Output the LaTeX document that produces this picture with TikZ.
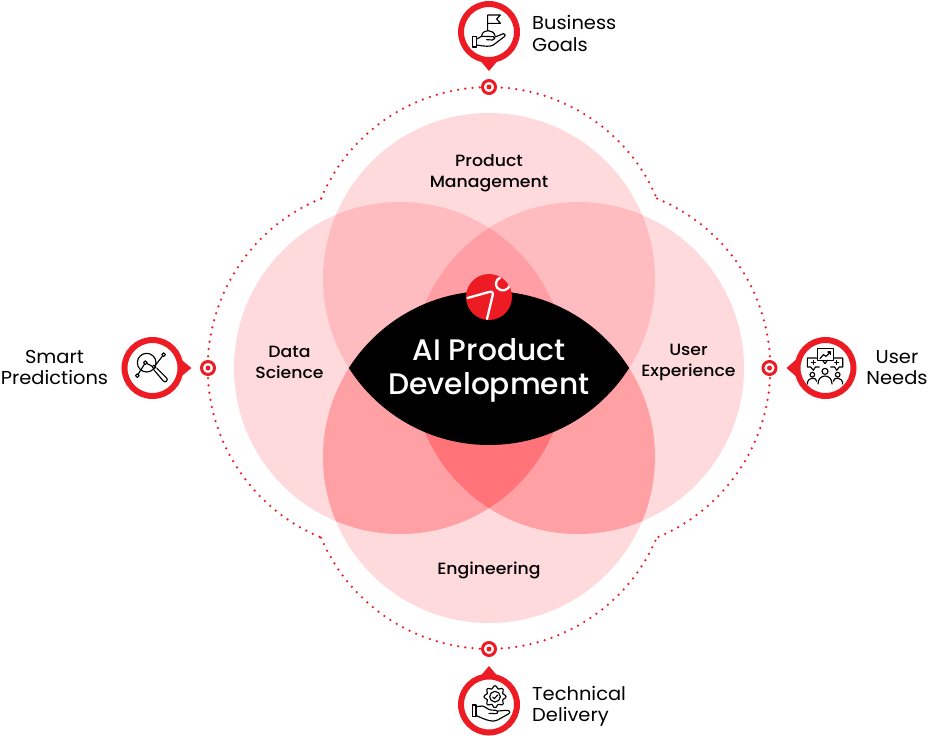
\documentclass[tikz,border=0pt]{standalone}
\usepackage{fontspec}
\setmainfont{Poppins}[FakeStretch=1.04]
\newfontfamily\popmed{Poppins Medium}[FakeStretch=1.06]
\newfontfamily\popmain{Poppins Medium}
\definecolor{brand}{HTML}{ED1C24}
\definecolor{petal}{HTML}{FFDADC}
\definecolor{pairtop}{HTML}{FFBCC0}
\definecolor{pairbot}{HTML}{FFA0A5}
\definecolor{tripletop}{HTML}{FF9FA5}
\definecolor{triplebot}{HTML}{FF7379}
\tikzset{
  x=1pt,y=-1pt,
  pinring/.style={circle,draw=brand,line width=6pt,fill=white,minimum size=56pt,inner sep=0pt,outer sep=0pt},
  targetdot/.style={circle,draw=brand,line width=3pt,fill=white,minimum size=13pt,inner sep=0pt,outer sep=0pt},
  bullseye/.style={circle,fill=brand,minimum size=5pt,inner sep=0pt,outer sep=0pt},
  pintip/.style={fill=brand},
  rim/.style={draw=brand,line width=2.5pt,line cap=round,dash pattern=on 0pt off 7.3pt},
  outerlabel/.style={text=black,font=\fontsize{18.7}{21.5}\selectfont,align=center,inner sep=0pt},
  outerleft/.style={outerlabel,align=left,anchor=west},
  innerlabel/.style={text=black,font=\popmed\fontsize{16.3}{20.4}\selectfont,align=center,inner sep=0pt},
  icon/.style={line width=1.15pt,draw=black,line join=round,line cap=round},
}
\newcommand{\circT}{(489,279) circle[radius=166]}
\newcommand{\circB}{(489,457) circle[radius=166]}
\newcommand{\circL}{(400,368) circle[radius=166]}
\newcommand{\circR}{(578,368) circle[radius=166]}
\begin{document}
\begin{tikzpicture}
\useasboundingbox (0,0) rectangle (929,736);
% petals
\fill[petal] \circT \circB \circL \circR;
\begin{scope}\clip \circT; \fill[pairtop] \circL; \fill[pairtop] \circR; \clip \circL; \fill[tripletop] \circR; \end{scope}
\begin{scope}\clip \circB; \fill[pairbot] \circL; \fill[pairbot] \circR; \clip \circL; \fill[triplebot] \circR; \end{scope}
% eye
\begin{scope}\clip \circT; \fill[black] \circB; \end{scope}
% dotted rim
\coordinate (cTL) at (321,198.5);
\coordinate (cTR) at (657,198.5);
\coordinate (cBL) at (321,537.5);
\coordinate (cBR) at (657,537.5);
\draw[rim] (cTL) arc[start angle=202.9,end angle=337.1,radius=182.3];
\draw[rim] (cBL) arc[start angle=157.1,end angle=22.9,radius=182.3];
\draw[rim] (cTL) arc[start angle=247.5,end angle=112.5,radius=183.5];
\draw[rim] (cTR) arc[start angle=-67.5,end angle=67.5,radius=183.5];
% logo
\node[circle,fill=brand,minimum size=46pt,inner sep=0pt,outer sep=0pt] (logo) at (489,297) {};
\draw[white,line width=2.3pt,line cap=round] (467.5,298) -- (489,292) .. controls (492.5,291) and (493.5,293) .. (492.5,296) -- (487,319);
\begin{scope}
\clip (489,297) circle[radius=23];
\draw[white,line width=2.3pt] (500.5,277.5) .. controls (496,279) and (494.5,285) .. (497.5,288) .. controls (501,292) and (508,291) .. (510,285);
\end{scope}
% main title
\node[text=white,font=\popmain\fontsize{29.7}{34}\selectfont,align=center,inner sep=0pt] (title) at (489,370) {AI Product\\Development};
% inner labels
\node[innerlabel] (pm) at (489,173) {Product\\Management};
\node[innerlabel] (ds) at (289.5,362.5) {Data\\Science};
\node[innerlabel] (ux) at (688.5,362.5) {User\\Experience};
\node[innerlabel] (en) at (489,570) {Engineering};
% top pin
\fill[pintip] (478,58) -- (489,71) -- (500,58) -- cycle;
\node[pinring] (bizpin) at (489,32) {};
\node[targetdot] (bizmark) at (489,87) {};
\node[bullseye] (bizdot) at (489,87) {};
\node[outerleft] (biz) at (532,33.5) {Business\\Goals};
% left pin
\fill[pintip] (178,357) -- (191.5,368) -- (178,379) -- cycle;
\node[pinring] (smartpin) at (152.5,368) {};
\node[targetdot] (smartmark) at (208,368) {};
\node[bullseye] (smartdot) at (208,368) {};
\node[outerlabel] (smart) at (54.5,367.5) {Smart\\Predictions};
% right pin
\fill[pintip] (799,357) -- (786.5,368) -- (799,379) -- cycle;
\node[pinring] (userpin) at (825.5,368) {};
\node[targetdot] (usermark) at (769.5,368) {};
\node[bullseye] (userdot) at (769.5,368) {};
\node[outerlabel] (user) at (897,367.5) {User\\Needs};
% bottom pin
\fill[pintip] (478,679) -- (489,666) -- (500,679) -- cycle;
\node[pinring] (techpin) at (489,704.5) {};
\node[targetdot] (techmark) at (489,649) {};
\node[bullseye] (techdot) at (489,649) {};
\node[outerleft] (tech) at (532,706.5) {Technical\\Delivery};
% icon: flag in hand
\begin{scope}[shift={(465,5)},scale=1/3]
\draw[icon] (68,75) -- (68,30) -- (106,30) -- (95,42) -- (106,55) -- (68,55);
\draw[icon] (50,92) .. controls (53,72) and (85,72) .. (90,92);
\draw[icon] (23,95) rectangle (35,126);
\draw[icon] (35,102) -- (50,94) -- (85,95) .. controls (92,97) and (90,105) .. (82,105) -- (65,104);
\draw[icon] (88,97) -- (115,86) .. controls (122,86) and (122,92) .. (118,95) -- (85,120) .. controls (75,126) and (60,124) .. (35,120);
\end{scope}
% icon: magnifier
\begin{scope}[shift={(130,342)},scale=1/3]
\draw[icon] (50,62) circle[radius=28];
\draw[icon] (72,84) -- (100,117) .. controls (106,124) and (116,114) .. (110,108) -- (80,78);
\draw[icon] (25,96) -- (43,67);
\draw[icon] (50,64) -- (67,73);
\draw[icon] (76,70) -- (97,43);
\draw[icon] (22,101) circle[radius=5.5];
\draw[icon] (46,62) circle[radius=5.5];
\draw[icon] (72,75) circle[radius=5.5];
\draw[icon] (101,38) circle[radius=5.5];
\end{scope}
% icon: audience
\begin{scope}[shift={(800,342)},scale=1/3]
\draw[icon] (52,20) rectangle (100,55);
\draw[icon] (68,55) -- (75,65) -- (82,55);
\draw[icon] (60,50) -- (70,38) -- (78,43) -- (92,30);
\draw[icon] (84,30) -- (92,30) -- (92,38);
\draw[icon] (50,48) -- (22,48) -- (22,75) -- (32,75) -- (40,85) -- (46,75) -- (58,75);
\draw[icon] (34,61) -- (46,61) (40,55) -- (40,67);
\draw[icon] (100,48) -- (128,48) -- (128,75) -- (118,75) -- (110,85) -- (104,75) -- (92,75);
\draw[icon] (104,61) -- (116,61) (110,55) -- (110,67);
\draw[icon] (37,98) circle[radius=7];
\draw[icon] (75,88) circle[radius=9];
\draw[icon] (113,98) circle[radius=7];
\draw[icon] (22,126) .. controls (22,104) and (50,104) .. (50,118);
\draw[icon] (54,126) .. controls (54,94) and (96,94) .. (96,126);
\draw[icon] (100,118) .. controls (100,104) and (128,104) .. (128,126);
\end{scope}
% icon: gear in hand
\begin{scope}[shift={(465,680)},scale=1/3]
\draw[icon] plot[domain=0:360,samples=65,smooth] ({90+(29+4*cos(8*\x))*cos(\x)},{50+(29+4*cos(8*\x))*sin(\x)});
\draw[icon] (90,50) circle[radius=16];
\draw[icon] (83,51) -- (88,56) -- (98,45);
\draw[icon] (22,75) rectangle (33,110);
\draw[icon] (33,80) -- (52,78) .. controls (62,80) and (70,90) .. (78,90) -- (92,91) .. controls (100,92) and (100,101) .. (92,101) -- (72,100);
\draw[icon] (98,93) -- (124,91) .. controls (134,90) and (138,98) .. (130,102) -- (98,120) .. controls (85,127) and (65,122) .. (33,106);
\end{scope}
\end{tikzpicture}
\end{document}
